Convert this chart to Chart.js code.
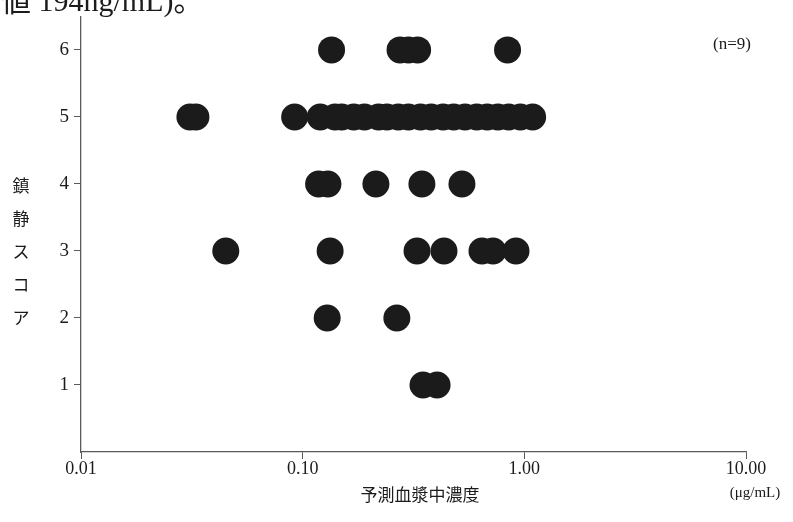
<!DOCTYPE html>
<html lang="ja">
<head>
<meta charset="utf-8">
<script src="https://cdn.jsdelivr.net/npm/chart.js@4/dist/chart.umd.min.js"></script>
<style>
  html, body { margin: 0; padding: 0; background: #fff; }
  #wrap { position: relative; width: 793px; height: 522px; }
</style>
</head>
<body>
<div id="wrap"><canvas id="c" width="793" height="522"></canvas></div>
<script>
// Predicted plasma concentration (µg/mL) for each sedation score
const score6 = [0.135, 0.275, 0.30, 0.33, 0.84];
const score5 = [0.031, 0.033, 0.092, 0.12, 0.14, 0.15, 0.17, 0.19, 0.22, 0.24, 0.27,
                0.30, 0.34, 0.38, 0.43, 0.48, 0.54, 0.61, 0.68, 0.76, 0.85, 0.96, 1.09];
const score4 = [0.118, 0.13, 0.214, 0.345, 0.523];
const score3 = [0.045, 0.133, 0.328, 0.434, 0.644, 0.722, 0.917];
const score2 = [0.129, 0.266];
const score1 = [0.349, 0.404];

const scoreTicks = [1, 2, 3, 4, 5, 6];
const concTicks = [0.01, 0.1, 1, 10];
const concLabels = ['0.01', '0.10', '1.00', '10.00'];

const yTitleChars = ['鎮', '静', 'ス', 'コ', 'ア'];
const xTitle = '予測血漿中濃度';
const unitText = '(\u03bcg/mL)';
const nText = '(n=9)';
const headText = '値 194ng/mL)。';

const rows = [[6, score6], [5, score5], [4, score4], [3, score3], [2, score2], [1, score1]];
const points = [];
rows.forEach(([s, arr]) => arr.forEach(v => points.push({ x: v, y: s })));

const SERIF = '"Liberation Serif", "Noto Sans CJK JP", serif';
const CJK = '"Noto Sans CJK JP", sans-serif';
const AXIS = '#5a5a5a';
const INK = '#1b1b1b';

const annotations = {
  id: 'annotations',
  afterDraw(chart) {
    const ctx = chart.ctx;
    ctx.save();
    ctx.fillStyle = INK;
    // partial caption line at the very top
    ctx.font = '30px ' + SERIF;
    ctx.textAlign = 'left';
    ctx.textBaseline = 'alphabetic';
    ctx.fillText(headText, 1, 11);
    // vertical axis title, one character per line
    ctx.font = '17px ' + CJK;
    ctx.textAlign = 'center';
    ctx.textBaseline = 'middle';
    const y3 = chart.scales.y.getPixelForValue(3);
    yTitleChars.forEach((ch, i) => {
      ctx.fillText(ch, 21, y3 - 65 + i * 33);
    });
    // horizontal axis title
    ctx.fillText(xTitle, 420, 495);
    // sample size
    ctx.font = '17px ' + SERIF;
    ctx.fillText(nText, 732, 45);
    // unit under the last tick label
    ctx.font = '15px ' + SERIF;
    ctx.fillText(unitText, 755, 493);
    ctx.restore();
  }
};

new Chart(document.getElementById('c'), {
  type: 'scatter',
  data: {
    datasets: [{
      data: points,
      backgroundColor: INK,
      borderWidth: 0,
      pointRadius: 13.5,
      pointHoverRadius: 13.5
    }]
  },
  options: {
    responsive: false,
    animation: false,
    events: [],
    layout: { autoPadding: false, padding: { top: 14, right: 47, left: 0, bottom: 0 } },
    plugins: { legend: { display: false }, tooltip: { enabled: false }, title: { display: false } },
    scales: {
      x: {
        type: 'logarithmic',
        min: 0.01,
        max: 10,
        afterBuildTicks(scale) { scale.ticks = concTicks.map(v => ({ value: v })); },
        afterFit(scale) { scale.height = 70; },
        ticks: {
          autoSkip: false,
          maxRotation: 0,
          padding: -1,
          color: INK,
          font: { family: SERIF, size: 18 },
          callback(value) {
            const i = concTicks.findIndex(t => Math.abs(t - value) < 1e-9);
            return i >= 0 ? concLabels[i] : '';
          }
        },
        grid: { display: true, drawOnChartArea: false, drawTicks: true, tickLength: 7, color: AXIS, lineWidth: 1 },
        border: { display: true, color: AXIS, width: 1.3 }
      },
      y: {
        type: 'linear',
        min: 0,
        max: 6.5,
        afterBuildTicks(scale) { scale.ticks = scoreTicks.map(v => ({ value: v })); },
        afterFit(scale) { scale.width = 81; },
        ticks: {
          autoSkip: false,
          padding: 5,
          color: INK,
          font: { family: SERIF, size: 19 }
        },
        grid: { display: true, drawOnChartArea: false, drawTicks: true, tickLength: 7, color: AXIS, lineWidth: 1 },
        border: { display: true, color: AXIS, width: 1.3 }
      }
    }
  },
  plugins: [annotations]
});
</script>
</body>
</html>
